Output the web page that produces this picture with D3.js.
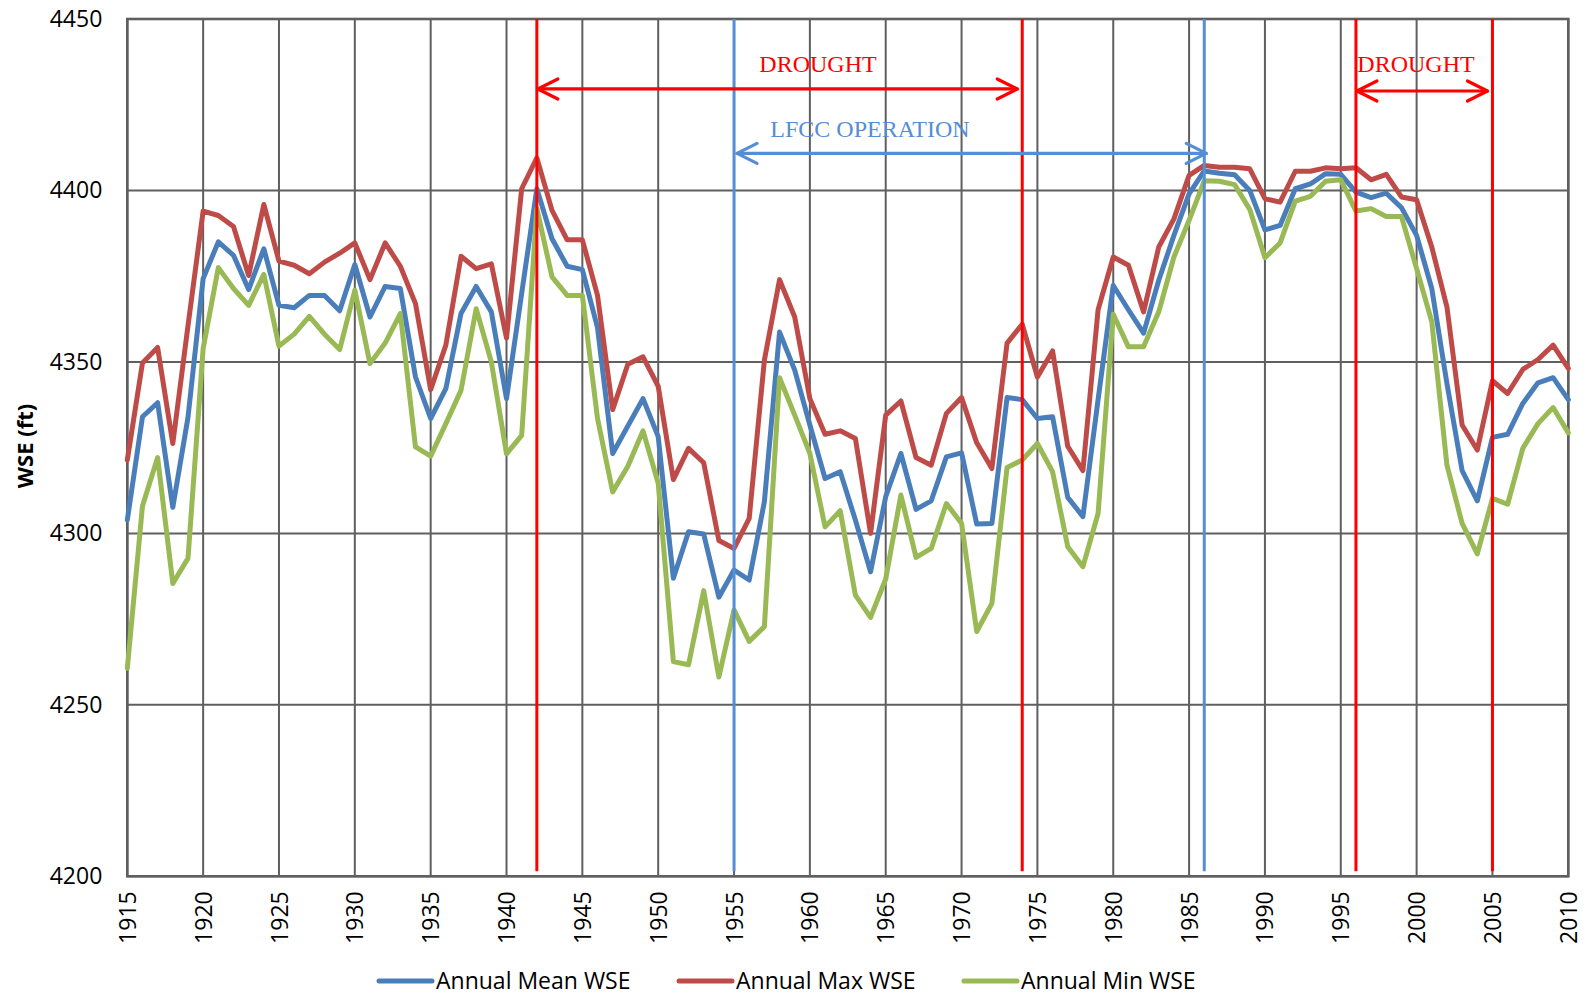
<!DOCTYPE html>
<html>
<head>
<meta charset="utf-8">
<script src="https://cdn.jsdelivr.net/npm/d3@7"></script>
<style>
  html, body { margin: 0; padding: 0; background: #fff; }
  svg { display: block; }
</style>
</head>
<body>
<svg id="chart" width="1587" height="997"></svg>
<script>
// ---------------- DATA ----------------
const years = d3.range(1915, 2011);

const meanWSE = [
  4303.9, 4334.0, 4338.1, 4307.6, 4333.8, 4374.3, 4385.0, 4381.1, 4371.1, 4383.0,
  4366.5, 4365.8, 4369.4, 4369.4, 4364.9, 4378.4, 4363.1, 4372.0, 4371.4, 4345.6,
  4333.5, 4342.2, 4364.1, 4372.0, 4364.6, 4339.3, 4370.0, 4400.5, 4385.9, 4377.9,
  4376.9, 4360.0, 4323.3, 4331.3, 4339.3, 4328.2, 4286.9, 4300.5, 4299.8, 4281.4,
  4289.3, 4286.4, 4309.2, 4358.7, 4347.6, 4331.6, 4316.0, 4318.0, 4303.9, 4288.8,
  4310.7, 4323.3, 4307.0, 4309.5, 4322.3, 4323.5, 4302.7, 4302.9, 4339.6, 4339.0,
  4333.5, 4334.0, 4310.5, 4304.9, 4339.0, 4372.3, 4365.2, 4358.4, 4373.8, 4386.9,
  4399.0, 4405.7, 4405.0, 4404.6, 4400.0, 4388.5, 4389.8, 4400.5, 4401.9, 4404.9,
  4404.7, 4399.5, 4397.9, 4399.2, 4395.0, 4386.9, 4371.4, 4343.7, 4318.3, 4309.5,
  4328.0, 4328.9, 4337.9, 4343.9, 4345.4, 4339.0
];

const maxWSE = [
  4321.4, 4349.7, 4354.2, 4326.2, 4360.5, 4394.0, 4392.7, 4389.5, 4375.2, 4395.9,
  4379.4, 4378.2, 4375.7, 4379.1, 4381.7, 4384.7, 4374.0, 4384.7, 4377.9, 4367.0,
  4341.9, 4354.9, 4380.8, 4377.2, 4378.6, 4357.0, 4400.5, 4409.5, 4394.2, 4385.6,
  4385.6, 4369.4, 4336.1, 4349.3, 4351.5, 4342.9, 4315.7, 4324.8, 4320.6, 4297.9,
  4295.6, 4304.4, 4350.5, 4374.0, 4363.1, 4339.3, 4328.9, 4329.9, 4327.7, 4300.0,
  4334.5, 4338.6, 4322.1, 4319.9, 4335.0, 4339.6, 4326.4, 4318.9, 4355.5, 4361.0,
  4345.6, 4353.2, 4325.4, 4318.3, 4365.2, 4380.6, 4378.2, 4364.6, 4383.5, 4391.7,
  4404.4, 4407.3, 4406.8, 4406.8, 4406.3, 4397.6, 4396.6, 4405.6, 4405.6, 4406.6,
  4406.3, 4406.6, 4403.1, 4404.7, 4398.1, 4397.3, 4383.5, 4366.0, 4331.6, 4324.3,
  4344.5, 4340.8, 4347.8, 4350.7, 4354.9, 4348.1
];

const minWSE = [
  4260.7, 4308.0, 4322.1, 4285.4, 4292.7, 4353.9, 4377.5, 4371.4, 4366.5, 4375.5,
  4354.6, 4358.1, 4363.3, 4358.1, 4353.6, 4370.9, 4349.5, 4355.5, 4364.1, 4325.2,
  4322.5, 4332.0, 4341.7, 4365.5, 4350.0, 4323.2, 4328.6, 4394.7, 4374.8, 4369.4,
  4369.4, 4333.5, 4312.1, 4319.6, 4329.9, 4314.6, 4262.6, 4261.7, 4283.3, 4258.1,
  4277.7, 4268.5, 4272.8, 4345.4, 4334.5, 4323.3, 4301.9, 4306.6, 4282.0, 4275.5,
  4286.7, 4311.2, 4293.0, 4295.6, 4308.7, 4302.9, 4271.4, 4279.6, 4319.2, 4321.4,
  4326.2, 4318.0, 4296.1, 4290.3, 4305.8, 4363.9, 4354.4, 4354.4, 4364.6, 4380.6,
  4391.3, 4402.8, 4402.7, 4401.7, 4394.5, 4380.4, 4384.7, 4396.9, 4398.3, 4402.7,
  4403.1, 4394.0, 4394.7, 4392.4, 4392.4, 4377.2, 4361.7, 4319.9, 4302.9, 4294.0,
  4310.2, 4308.5, 4324.8, 4332.0, 4336.7, 4329.3
];

const seriesNames = ["Annual Mean WSE", "Annual Max WSE", "Annual Min WSE"];
const xTicks = d3.range(1915, 2011, 5);
const yTicks = [4200, 4250, 4300, 4350, 4400, 4450];
const yTitle = "WSE (ft)";

// annotation periods
const droughtPeriods = [[1942, 1974], [1996, 2005]];
const droughtLabel = "DROUGHT";
const lfccPeriod = [1955, 1986];
const lfccLabel = "LFCC OPERATION";

// ---------------- LAYOUT ----------------
const W = 1587, H = 997;
const plot = { left: 127.3, right: 1568.3, top: 19, bottom: 876.3 };
const colors = { mean: "#4A7EBB", max: "#BE4B48", min: "#98B954" };
const gridColor = "#5f5f5f";
const red = "#FF0000", lblue = "#558ED5";

const svg = d3.select("#chart");

const x = d3.scaleLinear().domain([1915, 2010]).range([plot.left, plot.right]);
const y = d3.scaleLinear().domain([4200, 4450]).range([plot.bottom, plot.top]);

// gridlines
const g = svg.append("g");
g.selectAll(".vg").data(xTicks).join("line")
  .attr("x1", d => x(d)).attr("x2", d => x(d))
  .attr("y1", plot.top).attr("y2", plot.bottom)
  .attr("stroke", gridColor).attr("stroke-width", 2);
g.selectAll(".hg").data(yTicks).join("line")
  .attr("x1", plot.left).attr("x2", plot.right)
  .attr("y1", d => y(d)).attr("y2", d => y(d))
  .attr("stroke", gridColor).attr("stroke-width", 2);
g.append("rect")
  .attr("x", plot.left).attr("y", plot.top)
  .attr("width", plot.right - plot.left).attr("height", plot.bottom - plot.top)
  .attr("fill", "none").attr("stroke", gridColor).attr("stroke-width", 2.6);

// axes (labels only)
const yAxis = d3.axisLeft(y).tickValues(yTicks).tickSize(0).tickPadding(25).tickFormat(d3.format("d"));
const ya = svg.append("g").attr("transform", `translate(${plot.left},0)`).call(yAxis);
ya.select(".domain").remove();
ya.selectAll("text").attr("font-family", "'Open Sans', sans-serif").attr("font-size", 23).attr("fill", "#000");

const xAxis = d3.axisBottom(x).tickValues(xTicks).tickSize(0).tickFormat(d3.format("d"));
const xa = svg.append("g").attr("transform", `translate(0,${plot.bottom})`).call(xAxis);
xa.select(".domain").remove();
xa.selectAll("text")
  .attr("font-family", "'Open Sans', sans-serif").attr("font-size", 23).attr("fill", "#000")
  .attr("transform", "rotate(-90)")
  .attr("x", -15).attr("y", 0).attr("dy", "0.35em")
  .attr("text-anchor", "end");

// y title
svg.append("text")
  .attr("transform", `translate(33,446) rotate(-90)`)
  .attr("text-anchor", "middle")
  .attr("font-family", "'Open Sans', sans-serif").attr("font-weight", "bold")
  .attr("font-size", 22).attr("fill", "#000")
  .text(yTitle);

// series lines
const line = d3.line().x((d, i) => x(years[i])).y(d => y(d));
const series = [
  { name: seriesNames[0], values: meanWSE, color: colors.mean },
  { name: seriesNames[1], values: maxWSE, color: colors.max },
  { name: seriesNames[2], values: minWSE, color: colors.min }
];
svg.append("g").selectAll("path").data(series).join("path")
  .attr("d", d => line(d.values))
  .attr("fill", "none").attr("stroke", d => d.color)
  .attr("stroke-width", 5).attr("stroke-linejoin", "round").attr("stroke-linecap", "round");

// annotation verticals
const ann = svg.append("g");
const vlines = [];
droughtPeriods.forEach(p => p.forEach(yr => vlines.push({ yr, c: red })));
lfccPeriod.forEach(yr => vlines.push({ yr, c: lblue }));
ann.selectAll(".vl").data(vlines).join("line")
  .attr("x1", d => x(d.yr)).attr("x2", d => x(d.yr))
  .attr("y1", plot.top).attr("y2", plot.bottom - 5)
  .attr("stroke", d => d.c).attr("stroke-width", 3);

function arrow(x1, x2, yy, c) {
  const a = ann.append("g").attr("stroke", c).attr("stroke-width", 3.2).attr("fill", "none")
    .attr("stroke-linecap", "round").attr("stroke-linejoin", "round");
  a.append("line").attr("x1", x1).attr("x2", x2).attr("y1", yy).attr("y2", yy);
  a.append("polyline").attr("points", `${x1 + 20},${yy - 10} ${x1},${yy} ${x1 + 20},${yy + 10}`);
  a.append("polyline").attr("points", `${x2 - 20},${yy - 10} ${x2},${yy} ${x2 - 20},${yy + 10}`);
}
const dArrowY = [y(4429.6), y(4429.0)];
const dLabelPos = [818, 1416];
droughtPeriods.forEach((p, i) => {
  arrow(x(p[0]) + 1, x(p[1]) - 5, dArrowY[i], red);
  ann.append("text").attr("x", dLabelPos[i]).attr("y", 72)
    .attr("text-anchor", "middle").attr("font-family", "'Liberation Serif', 'Times New Roman', serif")
    .attr("font-size", 24).attr("fill", red).text(droughtLabel);
});
arrow(x(lfccPeriod[0]) + 3, x(lfccPeriod[1]) + 2, y(4410.8), lblue);
ann.append("text").attr("x", 870).attr("y", 137)
  .attr("text-anchor", "middle").attr("font-family", "'Liberation Serif', 'Times New Roman', serif")
  .attr("font-size", 24).attr("fill", lblue).text(lfccLabel);

// legend
const legendX = [379, 679, 964];
const lg = svg.append("g");
series.forEach((s, i) => {
  const gx = lg.append("g").attr("transform", `translate(${legendX[i]},981)`);
  gx.append("line").attr("x1", 0).attr("x2", 53).attr("y1", 0).attr("y2", 0)
    .attr("stroke", s.color).attr("stroke-width", 5).attr("stroke-linecap", "round");
  gx.append("text").attr("x", 57).attr("y", 0).attr("dy", "0.35em")
    .attr("font-family", "'Open Sans', sans-serif").attr("font-size", 23).attr("fill", "#000")
    .text(s.name);
});
</script>
</body>
</html>
